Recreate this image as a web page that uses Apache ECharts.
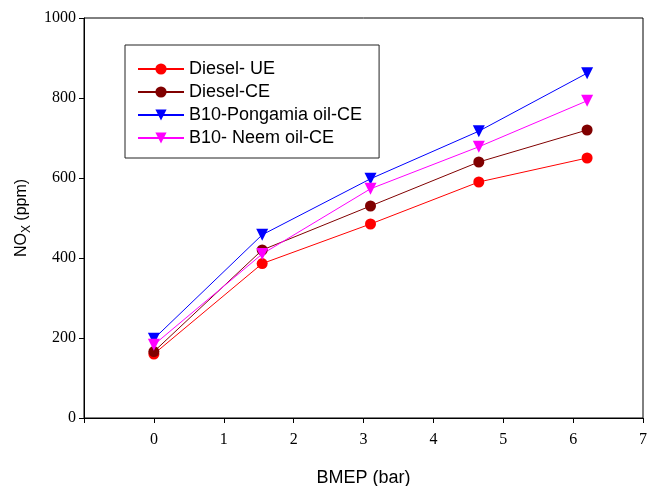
<!DOCTYPE html>
<html>
<head>
<meta charset="utf-8">
<script src="https://cdn.jsdelivr.net/npm/echarts@6/dist/echarts.min.js"></script>
<style>
  html, body { margin: 0; padding: 0; background: #fff; }
  #chart { width: 647px; height: 486px; }
</style>
</head>
<body>
<div id="chart"></div>
<script>
var bmep = [0, 1.55, 3.1, 4.65, 6.2];
var dieselUE = [160, 386, 485, 590, 650];
var dieselCE = [166, 420, 530, 640, 720];
var pongamiaCE = [198, 458, 598, 717, 862];
var neemCE = [183, 410, 573, 678, 793];
var xTicks = [0, 1, 2, 3, 4, 5, 6, 7];
var yTicks = [0, 200, 400, 600, 800, 1000];

var downTri = 'path://M0,0 L10,0 L5,9 Z';

function pairs(ys) {
    return bmep.map(function (x, i) { return [x, ys[i]]; });
}

function line(name, ys, color, symbol, size) {
    return {
        name: name,
        type: 'line',
        data: pairs(ys),
        symbol: symbol,
        symbolSize: size,
        lineStyle: { color: color, width: 1 },
        itemStyle: { color: color },
        emphasis: { disabled: true }
    };
}

var chart = echarts.init(document.getElementById('chart'));
chart.setOption({
    animation: false,
    grid: {
        left: 84, right: 4, top: 18, bottom: 68,
        containLabel: false, outerBoundsMode: 'none',
        show: true, borderColor: '#000', borderWidth: 1
    },
    legend: {
        left: 125, top: 45,
        orient: 'vertical',
        padding: [15, 17, 11, 12],
        itemGap: 5,
        itemWidth: 46, itemHeight: 14,
        borderColor: '#222', borderWidth: 1,
        textStyle: { fontFamily: 'Liberation Sans', fontSize: 18, color: '#000' },
        data: ['Diesel- UE', 'Diesel-CE', 'B10-Pongamia oil-CE', 'B10- Neem oil-CE']
    },
    xAxis: {
        type: 'value',
        min: -1, max: 7, interval: 1,
        name: 'BMEP (bar)',
        nameLocation: 'middle', nameGap: 51,
        nameTextStyle: { fontFamily: 'Liberation Sans', fontSize: 18, color: '#000' },
        axisLine: { onZero: false, lineStyle: { color: '#000' } },
        axisTick: { inside: false, length: 5, lineStyle: { color: '#000' } },
        axisLabel: {
            fontFamily: 'Liberation Serif', fontSize: 16, color: '#000', margin: 14,
            formatter: function (v) { return xTicks.indexOf(v) >= 0 ? String(v) : ''; }
        },
        splitLine: { show: false }
    },
    yAxis: {
        type: 'value',
        min: yTicks[0], max: yTicks[yTicks.length - 1], interval: 200,
        name: '{a|NO}{b|X}{a| (ppm)}',
        nameLocation: 'middle', nameGap: 48, nameRotate: 90,
        nameTextStyle: {
            rich: {
                a: { fontFamily: 'Liberation Sans', fontSize: 16, color: '#000', lineHeight: 20, verticalAlign: 'bottom' },
                b: { fontFamily: 'Liberation Sans', fontSize: 12, color: '#000', lineHeight: 20, verticalAlign: 'bottom', padding: [0, 0, -4, 0] }
            }
        },
        axisLine: { show: true, onZero: false, lineStyle: { color: '#000' } },
        axisTick: { show: true, inside: false, length: 5, lineStyle: { color: '#000' } },
        axisLabel: {
            fontFamily: 'Liberation Serif', fontSize: 16, color: '#000', margin: 8,
            formatter: function (v) { return String(v); }
        },
        splitLine: { show: false }
    },
    series: [
        line('Diesel- UE', dieselUE, '#ff0000', 'circle', 11),
        line('Diesel-CE', dieselCE, '#800000', 'circle', 11),
        line('B10-Pongamia oil-CE', pongamiaCE, '#0000ff', downTri, 12),
        line('B10- Neem oil-CE', neemCE, '#ff00ff', downTri, 12)
    ]
});
</script>
</body>
</html>
